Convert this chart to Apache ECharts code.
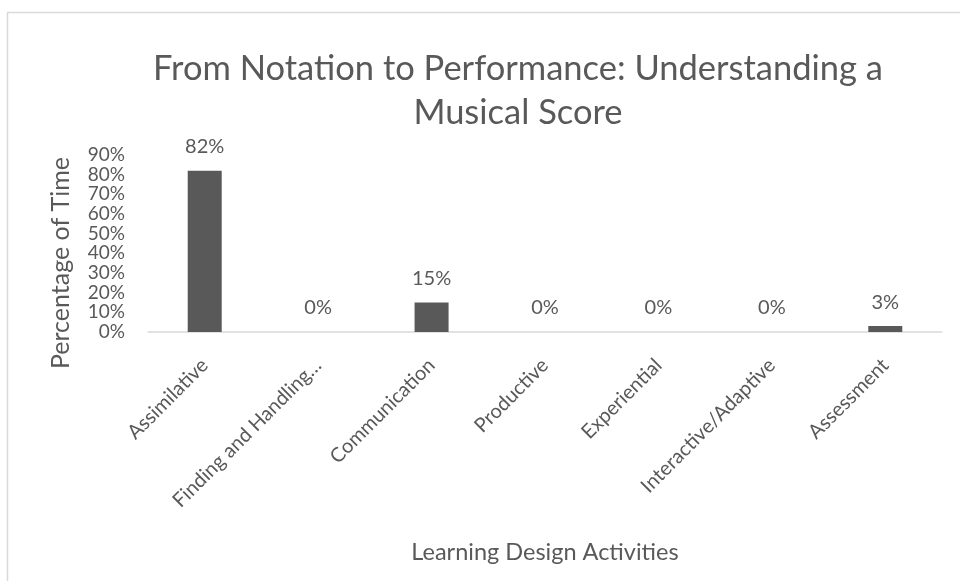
<!DOCTYPE html>
<html>
<head>
<meta charset="utf-8">
<script src="https://cdn.jsdelivr.net/npm/echarts@6/dist/echarts.min.js"></script>
<style>
  html, body { margin: 0; padding: 0; background: #fff; }
  #chart { width: 960px; height: 581px; }
</style>
</head>
<body>
<div id="chart"></div>
<script>
// activities on the x axis (Excel truncated the second one)
const categories = [
  "Assimilative",
  "Finding and Handling…",
  "Communication",
  "Productive",
  "Experiential",
  "Interactive/Adaptive",
  "Assessment",
];
// share of time, as fractions
const timeShare = [0.82, 0, 0.15, 0, 0, 0, 0.03];

const gray = "#595959";
const fontFamily = "Lato, 'Open Sans', sans-serif";

function pct(v) {
  return Math.round(v * 100) + "%";
}

const chart = echarts.init(document.getElementById("chart"));

const option = {
  backgroundColor: "#fff",
  textStyle: { fontFamily: fontFamily },
  title: {
    text: "From Notation to Performance: Understanding a\nMusical Score",
    left: 513,
    top: 42,
    textAlign: "center",
    textStyle: {
      color: gray,
      fontFamily: fontFamily,
      fontWeight: "normal",
      fontSize: 34.5,
      lineHeight: 44,
    },
  },
  graphic: [
    {
      type: "rect",
      left: 5,
      top: 10,
      shape: { width: 1000, height: 600 },
      style: { fill: "none", stroke: "#d9d9d9", lineWidth: 1.5 },
      silent: true,
    },
    {
      type: "text",
      x: 61,
      y: 263,
      rotation: Math.PI / 2,
      style: {
        text: "Percentage of Time",
        fill: gray,
        font: "25px " + fontFamily,
        textAlign: "center",
        textVerticalAlign: "middle",
      },
    },
  ],
  grid: {
    left: 148,
    right: 18,
    top: 155,
    bottom: 249,
  },
  xAxis: {
    type: "category",
    data: categories,
    name: "Learning Design Activities",
    nameLocation: "middle",
    nameGap: 208,
    nameTextStyle: { color: gray, fontSize: 23.5, fontFamily: fontFamily },
    axisLine: { lineStyle: { color: "#d9d9d9", width: 1.5 } },
    axisTick: { show: false },
    axisLabel: {
      rotate: 45,
      interval: 0,
      margin: 30,
      color: gray,
      fontSize: 20,
      fontFamily: fontFamily,
    },
  },
  yAxis: {
    type: "value",
    min: 0,
    max: 0.9,
    interval: 0.1,
    axisLine: { show: false },
    axisTick: { show: false },
    splitLine: { show: false },
    axisLabel: {
      formatter: pct,
      margin: 23,
      color: gray,
      fontSize: 19,
      fontFamily: fontFamily,
    },
  },
  series: [
    {
      type: "bar",
      data: timeShare,
      barWidth: 34,
      itemStyle: { color: gray },
      label: {
        show: true,
        position: "top",
        distance: 14,
        formatter: (p) => pct(p.value),
        color: gray,
        fontSize: 20,
        fontFamily: fontFamily,
      },
    },
  ],
};

chart.setOption(option);
window.onresize = function () {
  chart.resize();
};
</script>
</body>
</html>
